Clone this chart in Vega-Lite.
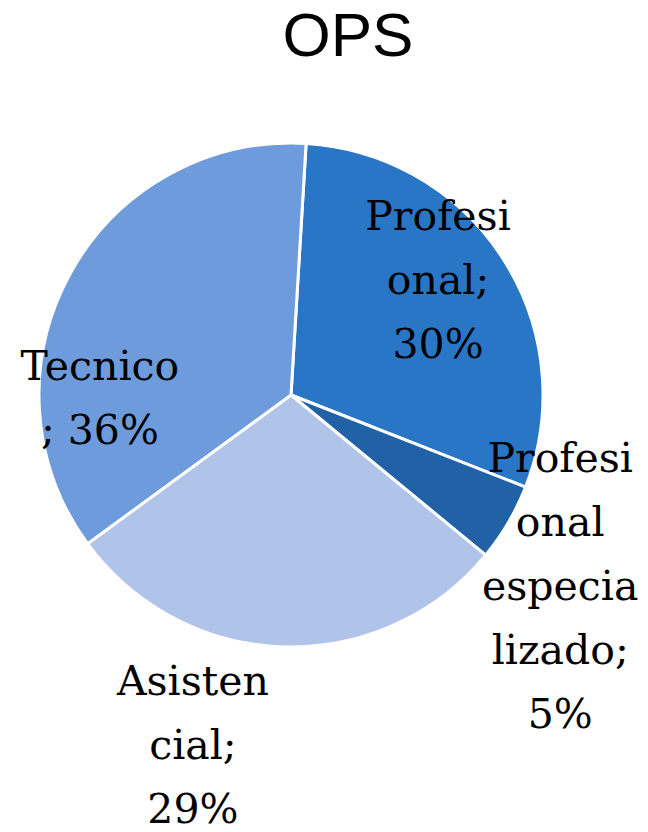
{
  "$schema": "https://vega.github.io/schema/vega-lite/v6.json",
  "width": 582,
  "height": 630,
  "autosize": {"type": "none"},
  "padding": {"top": 80, "left": 0, "right": 66, "bottom": 122},
  "background": "white",
  "title": {"text": "OPS", "font": "Liberation Sans", "fontSize": 62, "fontWeight": "normal", "color": "black", "anchor": "middle", "frame": "group", "dx": 57, "offset": 11},
  "data": {"values": [
    {"cat": "Profesional", "pct": 30, "n": 1, "label": "Profesi|onal;|30%"},
    {"cat": "Profesional especializado", "pct": 5, "n": 2, "label": "Profesi|onal|especia|lizado;|5%"},
    {"cat": "Asistencial", "pct": 29, "n": 3, "label": "Asisten|cial;|29%"},
    {"cat": "Tecnico", "pct": 36, "n": 4, "label": "Tecnico|; 36%"}
  ]},
  "encoding": {
    "theta": {"field": "pct", "type": "quantitative", "stack": true, "scale": {"range": [0.06, 6.3432]}},
    "order": {"field": "n", "type": "quantitative"}
  },
  "layer": [
    {
      "mark": {"type": "arc", "outerRadius": 252, "stroke": "white", "strokeWidth": 3},
      "encoding": {
        "color": {"field": "cat", "type": "nominal", "legend": null,
          "scale": {"domain": ["Profesional", "Profesional especializado", "Asistencial", "Tecnico"],
                    "range": ["#2a76c6", "#2161a5", "#b0c4ea", "#6d9bdb"]}}
      }
    },
    {
      "mark": {"type": "text", "font": "DejaVu Serif", "fontSize": 41, "lineBreak": "|", "lineHeight": 64, "align": "center", "baseline": "middle", "color": "black",
        "radius": {"expr": "datum.cat === 'Profesional' ? 230 : datum.cat === 'Profesional especializado' ? 277 : datum.cat === 'Asistencial' ? 304 : 193"},
        "thetaOffset": {"expr": "datum.cat === 'Profesional' ? -0.309 : datum.cat === 'Profesional especializado' ? -0.293 : datum.cat === 'Asistencial' ? 0.300 : -0.36"}
      },
      "encoding": {
        "text": {"field": "label", "type": "nominal"}
      }
    }
  ]
}
